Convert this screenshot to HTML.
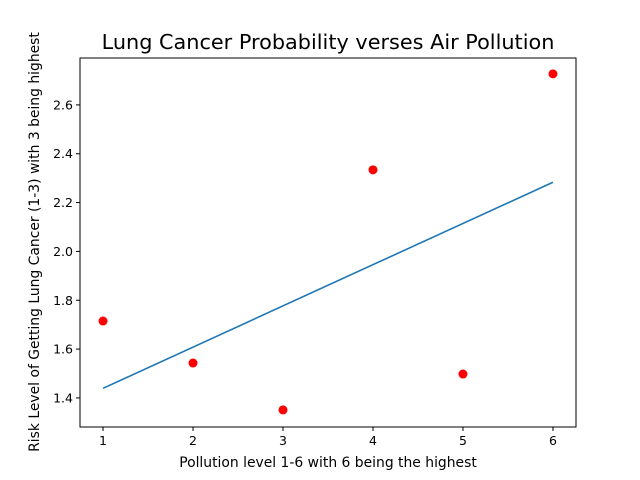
<!DOCTYPE html>
<html><head><meta charset="utf-8"><style>
html,body{margin:0;padding:0;background:#fff;}
svg{display:block;font-family:"DejaVu Sans","Liberation Sans",sans-serif;}
</style></head><body>
<svg id="chart" width="640" height="480" viewBox="0 0 640 480">
<rect width="640" height="480" fill="#fff"/>
<text x="328" y="49" font-size="20.8" text-anchor="middle">Lung Cancer Probability verses Air Pollution</text>
<g id="plot"></g>
<rect x="80" y="58" width="496" height="369" fill="none" stroke="#000" stroke-width="1"/>
<text x="328" y="467" font-size="13.9" text-anchor="middle">Pollution level 1-6 with 6 being the highest</text>
<text transform="translate(39,242) rotate(-90)" font-size="13.9" text-anchor="middle">Risk Level of Getting Lung Cancer (1-3) with 3 being highest</text>
</svg>
<script>
const xValues = [1, 2, 3, 4, 5, 6];
const yValues = [1.715, 1.543, 1.351, 2.334, 1.498, 2.727];
const xTicks = [1, 2, 3, 4, 5, 6];
const yTicks = [1.4, 1.6, 1.8, 2.0, 2.2, 2.4, 2.6];

const L=80,R=576,T=58,B=427;
const xMin=0.744,xMax=6.256,yMin=1.281,yMax=2.792;
const sx=v=>L+(v-xMin)/(xMax-xMin)*(R-L);
const sy=v=>B-(v-yMin)/(yMax-yMin)*(B-T);
const NS="http://www.w3.org/2000/svg";
const g=document.getElementById('plot');
function mk(t,a){const e=document.createElementNS(NS,t);for(const k in a)e.setAttribute(k,a[k]);g.appendChild(e);return e;}

xTicks.forEach(v=>{
  const l=mk('line',{x1:sx(v),x2:sx(v),y1:B,y2:B+4,stroke:'#000'});
  
  
  const t=mk('text',{x:sx(v),y:B+18,'font-size':12.5,'text-anchor':'middle'});
  t.textContent=v;
  
  
});
yTicks.forEach(v=>{
  const l=mk('line',{x1:L-4,x2:L,y1:sy(v),y2:sy(v),stroke:'#000'});
  
  
  const t=mk('text',{x:L-7,y:sy(v)+4.5,'font-size':12.5,'text-anchor':'end'});
  t.textContent=v.toFixed(1);
  
  
});

const n=xValues.length;
const mx=xValues.reduce((a,b)=>a+b,0)/n, my=yValues.reduce((a,b)=>a+b,0)/n;
let num=0,den=0;
for(let i=0;i<n;i++){num+=(xValues[i]-mx)*(yValues[i]-my);den+=(xValues[i]-mx)**2;}
const slope=num/den, icpt=my-slope*mx;
const x0=Math.min(...xValues), x1=Math.max(...xValues);
const fit=mk('line',{x1:sx(x0),y1:sy(icpt+slope*x0),x2:sx(x1),y2:sy(icpt+slope*x1),stroke:'#1f77b4','stroke-width':1.6});



xValues.forEach((x,i)=>{
  const c=mk('circle',{cx:sx(x),cy:sy(yValues[i]),r:4.5,fill:'#ff0000'});
  
  
});
</script>
</body></html>
